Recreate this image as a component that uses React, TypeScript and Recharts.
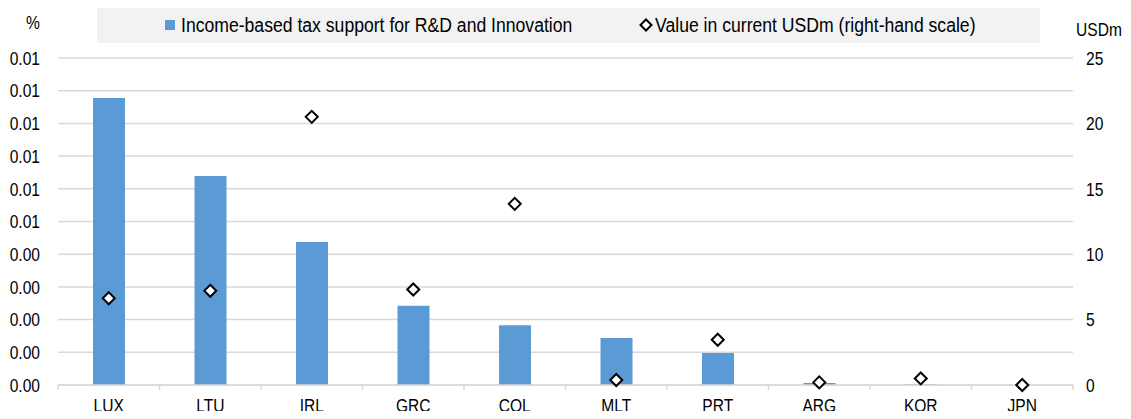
import { ComposedChart, Bar, Line, XAxis, YAxis, CartesianGrid, Legend } from 'recharts'

const countries = ['LUX', 'LTU', 'IRL', 'GRC', 'COL', 'MLT', 'PRT', 'ARG', 'KOR', 'JPN']
const taxSupport = [0.00878, 0.00639, 0.00437, 0.00242, 0.00183, 0.00144, 0.00098, 0.00006, 0.00002, 0]
const valueUsd = [6.63, 7.2, 20.5, 7.3, 13.85, 0.38, 3.46, 0.2, 0.5, 0.0]
const leftTicks = [0, 0.001, 0.002, 0.003, 0.004, 0.005, 0.006, 0.007, 0.008, 0.009, 0.01]
const rightTicks = [0, 5, 10, 15, 20, 25]

const data = countries.map((c, i) => ({ name: c, pct: taxSupport[i], usd: valueUsd[i] }))

const FONT = '"Liberation Sans", Arial, sans-serif'
const FS = 19
const SX = 0.82 // narrow look of the original font
const BLUE = '#5B9BD5'
const GRID = '#d9d9d9'

// text squeezed horizontally to look like Arial Narrow
const NarrowText = ({ x, y, anchor, children }: any) => (
  <text
    transform={`translate(${x},${y}) scale(${SX},1)`}
    textAnchor={anchor}
    dy="0.355em"
    fill="#000"
    fontSize={FS}
    fontFamily={FONT}
  >
    {children}
  </text>
)

const Diamond = (props: any) => {
  const { cx, cy } = props
  if (cx == null || cy == null) return null
  const r = 6
  return (
    <path
      d={`M${cx},${cy - r}L${cx + r},${cy}L${cx},${cy + r}L${cx - r},${cy}Z`}
      fill="#fff"
      stroke="#000"
      strokeWidth={2}
    />
  )
}

const CategoryTick = (props: any) => {
  const { x, y, payload, index } = props
  const off = payload.offset || 0
  return (
    <g>
      <line x1={x - off} x2={x - off} y1={y} y2={y + 5} stroke={GRID} strokeWidth={1.5} />
      {index === countries.length - 1 && (
        <line x1={x + off} x2={x + off} y1={y} y2={y + 5} stroke={GRID} strokeWidth={1.5} />
      )}
      <NarrowText x={x} y={y + 20} anchor="middle">
        {payload.value}
      </NarrowText>
    </g>
  )
}

const LeftTick = (props: any) => (
  <NarrowText x={props.x} y={props.y} anchor="end">
    {Number(props.payload.value).toFixed(2)}
  </NarrowText>
)

const RightTick = (props: any) => (
  <NarrowText x={props.x} y={props.y} anchor="start">
    {props.payload.value}
  </NarrowText>
)

const narrowSpan: any = {
  position: 'absolute',
  top: 0,
  lineHeight: '35px',
  whiteSpace: 'nowrap',
  transform: 'scaleX(0.88)',
  transformOrigin: 'left center',
}

const LegendBox = () => (
  <div
    style={{
      position: 'relative',
      background: '#f2f2f2',
      width: '100%',
      height: '100%',
      fontFamily: FONT,
      fontSize: 20,
      color: '#000',
    }}
  >
    <span style={{ position: 'absolute', left: 68, top: 12, width: 10, height: 10, background: BLUE }} />
    <span style={{ ...narrowSpan, left: 84 }}>Income-based tax support for R&amp;D and Innovation</span>
    <svg width={14} height={14} style={{ position: 'absolute', left: 542, top: 10 }}>
      <path d="M7,1.5L12.5,7L7,12.5L1.5,7Z" fill="#fff" stroke="#000" strokeWidth={2} />
    </svg>
    <span style={{ ...narrowSpan, left: 558 }}>Value in current USDm (right-hand scale)</span>
  </div>
)

export default function App() {
  return (
    <div style={{ margin: -8, width: 1131, height: 419, background: '#fff' }}>
      <ComposedChart width={1131} height={419} data={data} margin={{ top: 58, right: 0, bottom: 0, left: 0 }}>
        <CartesianGrid horizontal vertical={false} stroke={GRID} strokeWidth={1.5} yAxisId="left" />
        <XAxis
          dataKey="name"
          axisLine={{ stroke: GRID, strokeWidth: 1.5 }}
          tickLine={false}
          tickSize={0}
          tickMargin={0}
          height={34}
          interval={0}
          tick={<CategoryTick />}
        />
        <YAxis
          yAxisId="left"
          width={58}
          domain={[0, 0.01]}
          ticks={leftTicks}
          axisLine={false}
          tickLine={false}
          tickSize={6}
          tickMargin={12}
          tick={<LeftTick />}
          label={{
            content: (p: any) => (
              <NarrowText x={p.viewBox.x + 33} y={p.viewBox.y - 36} anchor="middle">
                %
              </NarrowText>
            ),
          }}
        />
        <YAxis
          yAxisId="right"
          orientation="right"
          width={58}
          domain={[0, 25]}
          ticks={rightTicks}
          axisLine={false}
          tickLine={false}
          tickSize={6}
          tickMargin={7}
          tick={<RightTick />}
          label={{
            content: (p: any) => (
              <NarrowText x={p.viewBox.x + 26} y={p.viewBox.y - 29} anchor="middle">
                USDm
              </NarrowText>
            ),
          }}
        />
        <Legend
          layout="horizontal"
          verticalAlign="middle"
          align="center"
          wrapperStyle={{ top: 8, left: 97, width: 943, height: 35 }}
          content={<LegendBox />}
        />
        <Bar yAxisId="left" dataKey="pct" fill={BLUE} barSize={32} isAnimationActive={false} />
        <Line
          yAxisId="right"
          dataKey="usd"
          stroke="none"
          dot={<Diamond />}
          activeDot={false}
          isAnimationActive={false}
        />
      </ComposedChart>
    </div>
  )
}
